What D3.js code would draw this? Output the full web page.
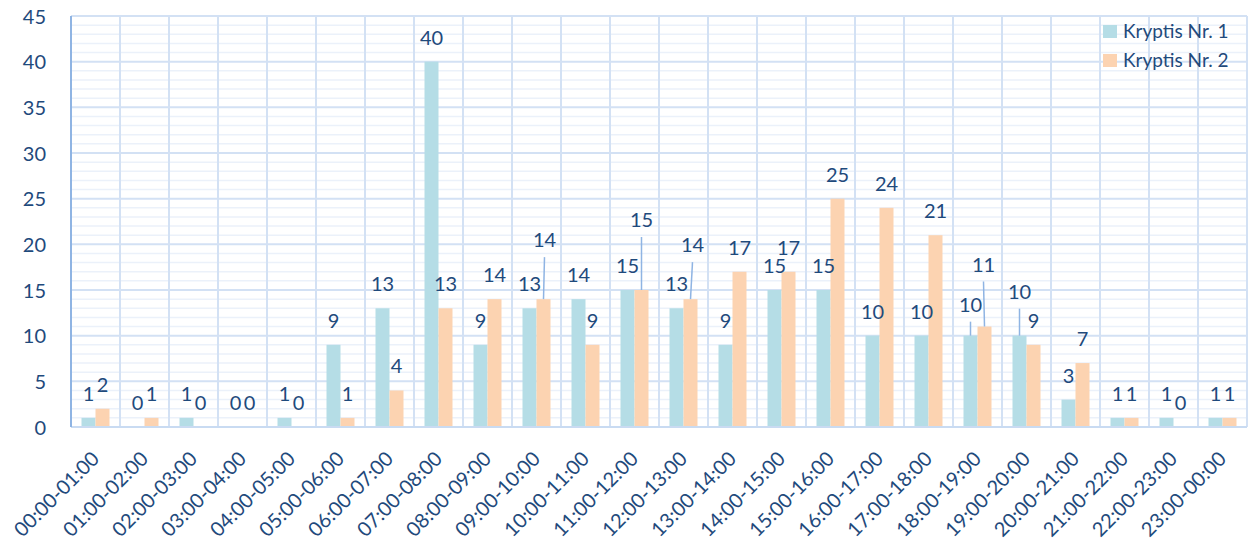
<!DOCTYPE html>
<html>
<head>
<meta charset="utf-8">
<script src="https://cdn.jsdelivr.net/npm/d3@7"></script>
<style>
  html, body { margin: 0; padding: 0; background: #fff; }
  svg { display: block; font-family: Lato, "Open Sans", sans-serif; }
</style>
</head>
<body>
<svg id="chart" width="1256" height="543"></svg>
<script>
// Hourly counts for the two crossings
const hours = [
  "00:00-01:00", "01:00-02:00", "02:00-03:00", "03:00-04:00", "04:00-05:00", "05:00-06:00",
  "06:00-07:00", "07:00-08:00", "08:00-09:00", "09:00-10:00", "10:00-11:00", "11:00-12:00",
  "12:00-13:00", "13:00-14:00", "14:00-15:00", "15:00-16:00", "16:00-17:00", "17:00-18:00",
  "18:00-19:00", "19:00-20:00", "20:00-21:00", "21:00-22:00", "22:00-23:00", "23:00-00:00"
];
const seriesNames = ["Kryptis Nr. 1", "Kryptis Nr. 2"];
const kryptis1 = [1, 0, 1, 0, 1, 9, 13, 40, 9, 13, 14, 15, 13, 9, 15, 15, 10, 10, 10, 10, 3, 1, 1, 1];
const kryptis2 = [2, 1, 0, 0, 0, 1, 4, 13, 14, 14, 9, 15, 14, 17, 17, 25, 24, 21, 11, 9, 7, 1, 0, 1];
const yTicks = [0, 5, 10, 15, 20, 25, 30, 35, 40, 45];

// Labels that were pulled up away from their bars (drawn with a leader line)
const movedLabels = [
  { series: 1, hour: 9,  dx: 1, dy: -35 },
  { series: 1, hour: 11, dx: 0, dy: -46 },
  { series: 1, hour: 12, dx: 2, dy: -30 },
  { series: 0, hour: 18, dx: 0, dy: -7 },
  { series: 1, hour: 18, dx: -1, dy: -38 },
  { series: 0, hour: 19, dx: 0, dy: -20 }
];

const colors = ["#b5dde6", "#fcd3b1"];
const textColor = "#1f4a7c";

const svg = d3.select("#chart");
const margin = { left: 71, right: 9, top: 16, bottom: 116 };
const W = 1256, H = 543;
const plotW = W - margin.left - margin.right;
const plotH = H - margin.top - margin.bottom;

const g = svg.append("g").attr("transform", `translate(${margin.left},${margin.top})`);

const x = d3.scaleBand().domain(hours).range([0, plotW]).paddingInner(0).paddingOuter(0);
const xInner = d3.scaleBand().domain([0, 1]).range([x.bandwidth() / 2 - 14, x.bandwidth() / 2 + 14]);
const y = d3.scaleLinear().domain([0, 45]).range([plotH, 0]);

// minor gridlines
g.append("g").selectAll("line")
  .data(d3.range(0, 46).filter(v => v % 5 !== 0))
  .join("line")
  .attr("x1", 0).attr("x2", plotW)
  .attr("y1", d => y(d)).attr("y2", d => y(d))
  .attr("stroke", "#ebf1fa").attr("stroke-width", 1.5);

// major gridlines
g.append("g").selectAll("line")
  .data(yTicks)
  .join("line")
  .attr("x1", 0).attr("x2", plotW)
  .attr("y1", d => y(d)).attr("y2", d => y(d))
  .attr("stroke", "#d3e1f4").attr("stroke-width", 2);

// vertical category separators
g.append("g").selectAll("line")
  .data(d3.range(1, hours.length + 1))
  .join("line")
  .attr("x1", i => i * x.step()).attr("x2", i => i * x.step())
  .attr("y1", 0).attr("y2", plotH)
  .attr("stroke", "#d3e1f4").attr("stroke-width", 2);

// bars
const groups = g.append("g").selectAll("g")
  .data(hours)
  .join("g")
  .attr("transform", d => `translate(${x(d)},0)`);

const seriesData = [kryptis1, kryptis2];
groups.each(function(h, i) {
  d3.select(this).selectAll("rect")
    .data([0, 1])
    .join("rect")
    .attr("x", s => xInner(s))
    .attr("width", xInner.bandwidth())
    .attr("y", s => y(seriesData[s][i]))
    .attr("height", s => plotH - y(seriesData[s][i]))
    .attr("fill", s => colors[s]);
});

// axes lines
g.append("line").attr("x1", 0).attr("x2", plotW).attr("y1", plotH).attr("y2", plotH)
  .attr("stroke", "#c9dbf2").attr("stroke-width", 2);
g.append("line").attr("x1", 0).attr("x2", 0).attr("y1", 0).attr("y2", plotH)
  .attr("stroke", "#8fb4e3").attr("stroke-width", 2);

// y axis labels
const yAxis = d3.axisLeft(y).tickValues(yTicks).tickSize(0).tickPadding(25);
const yg = g.append("g").call(yAxis);
yg.select(".domain").remove();
yg.selectAll("text")
  .attr("fill", textColor)
  .style("font-size", "20px")
  .style("font-family", "Lato, sans-serif")
  .attr("dy", "0.35em");

// x axis labels
const xAxis = d3.axisBottom(x).tickSize(0);
const xg = g.append("g").attr("transform", `translate(0,${plotH})`).call(xAxis);
xg.select(".domain").remove();
xg.selectAll("text")
  .attr("fill", textColor)
  .style("font-size", "20px")
  .style("font-family", "Lato, sans-serif")
  .attr("text-anchor", "end")
  .attr("y", 0).attr("dy", 0)
  .attr("transform", "translate(5,33) rotate(-45)");

// data labels
const labelGap = 24;
const labels = [];
seriesData.forEach((vals, s) => {
  vals.forEach((v, i) => {
    const mv = movedLabels.find(m => m.series === s && m.hour === i);
    const bx = x(hours[i]) + xInner(s) + xInner.bandwidth() / 2;
    const by = y(v);
    labels.push({
      v, s, i, bx, by,
      lx: bx + (mv ? mv.dx : 0),
      ly: by - labelGap + (mv ? mv.dy : 0),
      moved: !!mv
    });
  });
});

g.append("g").selectAll("line")
  .data(labels.filter(d => d.moved))
  .join("line")
  .attr("x1", d => d.bx).attr("y1", d => d.by)
  .attr("x2", d => d.lx).attr("y2", d => d.ly + 17)
  .attr("stroke", "#8fb4e3").attr("stroke-width", 1.5);

g.append("g").selectAll("text")
  .data(labels)
  .join("text")
  .attr("x", d => d.lx).attr("y", d => d.ly)
  .attr("dy", "0.35em")
  .attr("text-anchor", "middle")
  .attr("fill", textColor)
  .style("font-size", "20px")
  .text(d => d.v);

// legend
const legend = svg.append("g").attr("transform", "translate(1103,31)");
seriesNames.forEach((name, s) => {
  const row = legend.append("g").attr("transform", `translate(0,${s * 29})`);
  row.append("rect").attr("x", 0).attr("y", -6).attr("width", 14).attr("height", 13).attr("fill", colors[s]);
  row.append("text").attr("x", 20).attr("y", 0).attr("dy", "0.35em")
    .attr("fill", textColor).style("font-size", "19px").text(name);
});
</script>
</body>
</html>
